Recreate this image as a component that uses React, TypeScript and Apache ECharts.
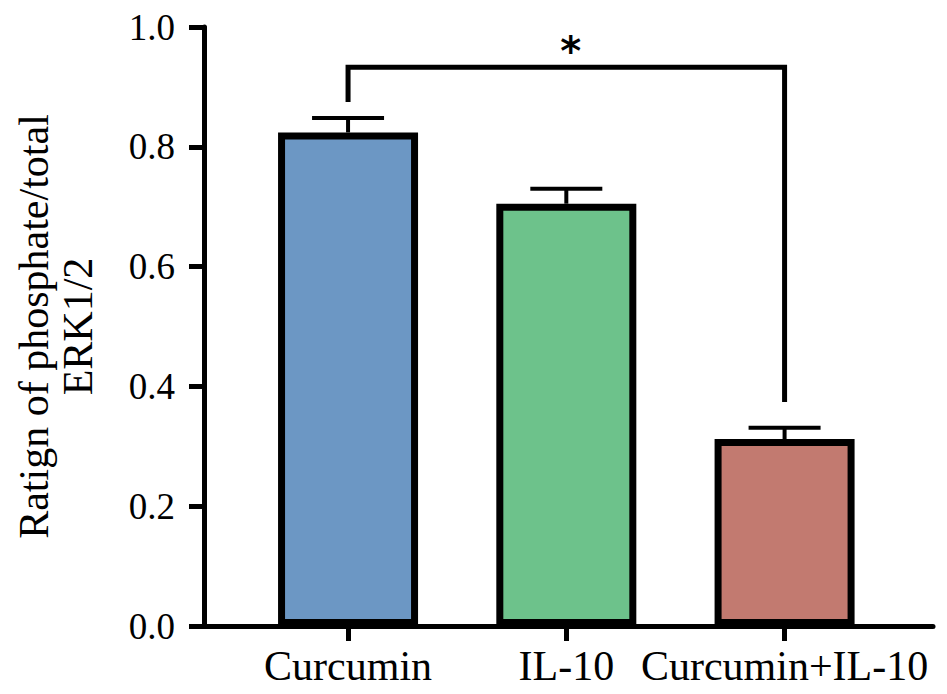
import React, { useEffect, useRef } from "react";
import * as echarts from "echarts";

const categories = ["Curcumin", "IL-10", "Curcumin+IL-10"];
const positions = [1, 2, 3];
const means = [0.824, 0.705, 0.312];
const upperErrors = [0.024, 0.025, 0.019];
const barColors = ["#6C97C4", "#6DC28B", "#C27A70"];
const yTicks = { min: 0, max: 1, interval: 0.2 };
const xRange = { min: 0.34, max: 3.68 };
const bracketFrom = 1;
const bracketTo = 3;
const bracketTop = 0.933;
const bracketLeftEnd = 0.875;
const bracketRightEnd = 0.374;
const bracketLabel = "*";
const bracketLabelY = 0.96;
const yAxisTitle = "Ratign of phosphate/total\nERK1/2";

const FONT = "'Liberation Serif', 'Times New Roman', serif";

export default function App() {
  const ref = useRef<HTMLDivElement>(null);
  useEffect(() => {
    if (!ref.current) return;
    const chart = echarts.init(ref.current, null, { renderer: "svg" });
    const option: any = {
      animation: false,
      backgroundColor: "#ffffff",
      grid: { left: 204, right: 14, top: 27, bottom: 68, containLabel: false },
      xAxis: {
        type: "value",
        min: xRange.min,
        max: xRange.max,
        splitLine: { show: false },
        axisLine: { show: true, onZero: true, lineStyle: { color: "#000", width: 5 } },
        axisTick: {
          show: true,
          customValues: positions,
          length: 15,
          lineStyle: { color: "#000", width: 5 },
        },
        axisLabel: {
          show: true,
          customValues: positions,
          formatter: (v: number) => categories[Math.round(v) - 1] ?? "",
          fontFamily: FONT,
          fontSize: 42,
          color: "#000",
          margin: 19,
        },
      },
      yAxis: {
        type: "value",
        min: yTicks.min,
        max: yTicks.max,
        interval: yTicks.interval,
        name: yAxisTitle,
        nameLocation: "middle",
        nameGap: 104,
        nameRotate: 90,
        nameTextStyle: { fontFamily: FONT, fontSize: 42, color: "#000", lineHeight: 44 },
        splitLine: { show: false },
        axisLine: { show: true, lineStyle: { color: "#000", width: 5 } },
        axisTick: { show: true, length: 15, lineStyle: { color: "#000", width: 5 } },
        axisLabel: {
          formatter: (v: number) => v.toFixed(1),
          fontFamily: FONT,
          fontSize: 37,
          color: "#000",
          margin: 29,
        },
      },
      series: [
        {
          type: "custom",
          z: 1,
          data: positions.map((x, i) => [x, means[i], means[i] + upperErrors[i]]),
          renderItem: (params: any, api: any) => {
            const x = api.value(0);
            const p0 = api.coord([x, api.value(1)]);
            const p1 = api.coord([x, api.value(2)]);
            const style = { stroke: "#000", lineWidth: 4 };
            return {
              type: "group",
              children: [
                { type: "line", shape: { x1: p0[0], y1: p0[1], x2: p1[0], y2: p1[1] }, style },
                { type: "line", shape: { x1: p1[0] - 36, y1: p1[1], x2: p1[0] + 36, y2: p1[1] }, style },
              ],
            };
          },
        },
        {
          type: "bar",
          z: 2,
          barWidth: 140,
          data: positions.map((x, i) => ({
            value: [x, means[i]],
            itemStyle: { color: barColors[i], borderColor: "#000", borderWidth: 7 },
          })),
        },
        {
          type: "custom",
          z: 3,
          clip: false,
          data: [[bracketFrom, bracketTo, bracketTop, bracketLeftEnd, bracketRightEnd]],
          renderItem: (params: any, api: any) => {
            const a = api.coord([api.value(0), api.value(3)]);
            const b = api.coord([api.value(0), api.value(2)]);
            const c = api.coord([api.value(1), api.value(2)]);
            const d = api.coord([api.value(1), api.value(4)]);
            const m = api.coord([(api.value(0) + api.value(1)) / 2 + 0.02, bracketLabelY]);
            return {
              type: "group",
              children: [
                {
                  type: "polyline",
                  shape: { points: [a, b, c, d] },
                  style: { stroke: "#000", lineWidth: 5, fill: "none", lineJoin: "miter" },
                },
                {
                  type: "text",
                  x: m[0],
                  y: m[1],
                  style: {
                    text: bracketLabel,
                    fontFamily: "'DejaVu Sans', sans-serif",
                    fontWeight: "bold",
                    fontSize: 40,
                    fill: "#000",
                    align: "center",
                    verticalAlign: "middle",
                  },
                },
              ],
            };
          },
        },
      ],
    };
    chart.setOption(option);
    return () => chart.dispose();
  }, []);
  return (
    <div
      ref={ref}
      style={{ position: "fixed", left: 0, top: 0, width: 947, height: 694, background: "#fff" }}
    />
  );
}
